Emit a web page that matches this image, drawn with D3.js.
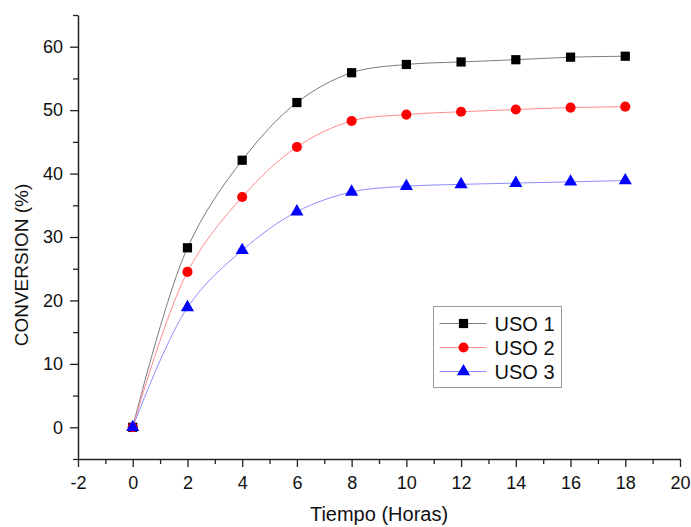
<!DOCTYPE html>
<html>
<head>
<meta charset="utf-8">
<script src="https://cdn.jsdelivr.net/npm/d3@7"></script>
<style>
  body { margin: 0; background: #fff; }
  svg text { font-family: "Liberation Sans", Arial, sans-serif; fill: #111; }
</style>
</head>
<body>
<svg id="chart" width="691" height="527"></svg>
<script>
// hours
const horas = [0, 2, 4, 6, 8, 10, 12, 14, 16, 18];
// conversion (%) per use
const uso1 = [0, 28.3, 42.1, 51.2, 55.9, 57.2, 57.6, 57.95, 58.35, 58.5];
const uso2 = [0, 24.5, 36.3, 44.2, 48.3, 49.3, 49.75, 50.1, 50.4, 50.55];
const uso3 = [0, 18.9, 27.9, 34.0, 37.1, 38.0, 38.3, 38.5, 38.7, 38.9];
const seriesNames = ["USO 1", "USO 2", "USO 3"];
const xTicks = [-2, 0, 2, 4, 6, 8, 10, 12, 14, 16, 18, 20];
const yTicks = [0, 10, 20, 30, 40, 50, 60];

const svgWidth = 691, svgHeight = 527;
const margin = { top: 15, right: 11, bottom: 68, left: 78 };
const width = svgWidth - margin.left - margin.right;
const height = svgHeight - margin.top - margin.bottom;

const svg = d3.select("#chart");
const g = svg.append("g").attr("transform", `translate(${margin.left},${margin.top})`);

const x = d3.scaleLinear().domain([-2, 20]).range([0, width]);
const y = d3.scaleLinear().domain([-5, 65]).range([height, 0]);

// plain hyphen for negatives, like the original
const fmt = d => String(d);

// minor ticks first, then the labelled ones
g.append("g")
  .attr("transform", `translate(0,${height})`)
  .call(d3.axisBottom(x).tickValues(d3.range(-1, 20, 2)).tickSize(5).tickFormat(""))
  .call(a => a.select(".domain").remove());
g.append("g")
  .call(d3.axisLeft(y).tickValues(d3.range(-5, 66, 10)).tickSize(5).tickFormat(""))
  .call(a => a.select(".domain").remove());

const xAxis = g.append("g")
  .attr("transform", `translate(0,${height})`)
  .call(d3.axisBottom(x).tickValues(xTicks).tickSize(8).tickSizeOuter(0).tickPadding(9).tickFormat(fmt));
const yAxis = g.append("g")
  .call(d3.axisLeft(y).tickValues(yTicks).tickSize(8).tickSizeOuter(0).tickPadding(7).tickFormat(fmt));

[xAxis, yAxis].forEach(a => {
  a.selectAll("text").style("font-size", "18px").attr("fill", "#111");
});
g.selectAll(".tick line").attr("stroke", "#222").attr("stroke-width", 1.3);
g.selectAll(".domain").attr("stroke", "#222").attr("stroke-width", 1.5);

// axis titles
svg.append("text")
  .attr("x", margin.left + width / 2)
  .attr("y", 521)
  .attr("text-anchor", "middle")
  .style("font-size", "20px")
  .text("Tiempo (Horas)");
svg.append("text")
  .attr("transform", "translate(28,265) rotate(-90)")
  .attr("text-anchor", "middle")
  .style("font-size", "19px")
  .text("CONVERSION (%)");

const series = [
  { name: seriesNames[0], values: uso1, line: "#7a7a7a", fill: "#000", shape: d3.symbolSquare, size: 85 },
  { name: seriesNames[1], values: uso2, line: "#ff8c8c", fill: "#ff0000", shape: d3.symbolCircle, size: 80 },
  { name: seriesNames[2], values: uso3, line: "#8c8cff", fill: "#0000ff", shape: d3.symbolTriangle, size: 75 }
];

const line = d3.line()
  .x(d => x(d[0]))
  .y(d => y(d[1]))
  .curve(d3.curveCatmullRom.alpha(0.5));

series.forEach(s => {
  const pts = horas.map((h, i) => [h, s.values[i]]);
  g.append("path")
    .datum(pts)
    .attr("fill", "none")
    .attr("stroke", s.line)
    .attr("stroke-width", 1)
    .attr("d", line);
});

series.forEach(s => {
  const pts = horas.map((h, i) => [h, s.values[i]]);
  g.append("g").selectAll("path")
    .data(pts)
    .join("path")
    .attr("transform", d => `translate(${x(d[0])},${y(d[1])})`)
    .attr("d", d3.symbol().type(s.shape).size(s.size))
    .attr("fill", s.fill);
});

// legend
const legend = svg.append("g").attr("transform", "translate(433.5,306.5)");
legend.append("rect")
  .attr("width", 128)
  .attr("height", 81)
  .attr("fill", "#fff")
  .attr("stroke", "#999")
  .attr("stroke-width", 1);
series.forEach((s, i) => {
  const row = legend.append("g").attr("transform", `translate(0,${17 + i * 24})`);
  row.append("line")
    .attr("x1", 6).attr("x2", 53)
    .attr("stroke", s.line).attr("stroke-width", 1);
  row.append("path")
    .attr("transform", "translate(30,0)")
    .attr("d", d3.symbol().type(s.shape).size(s.size))
    .attr("fill", s.fill);
  row.append("text")
    .attr("x", 61)
    .attr("dy", "0.36em")
    .style("font-size", "20px")
    .text(s.name);
});
</script>
</body>
</html>
